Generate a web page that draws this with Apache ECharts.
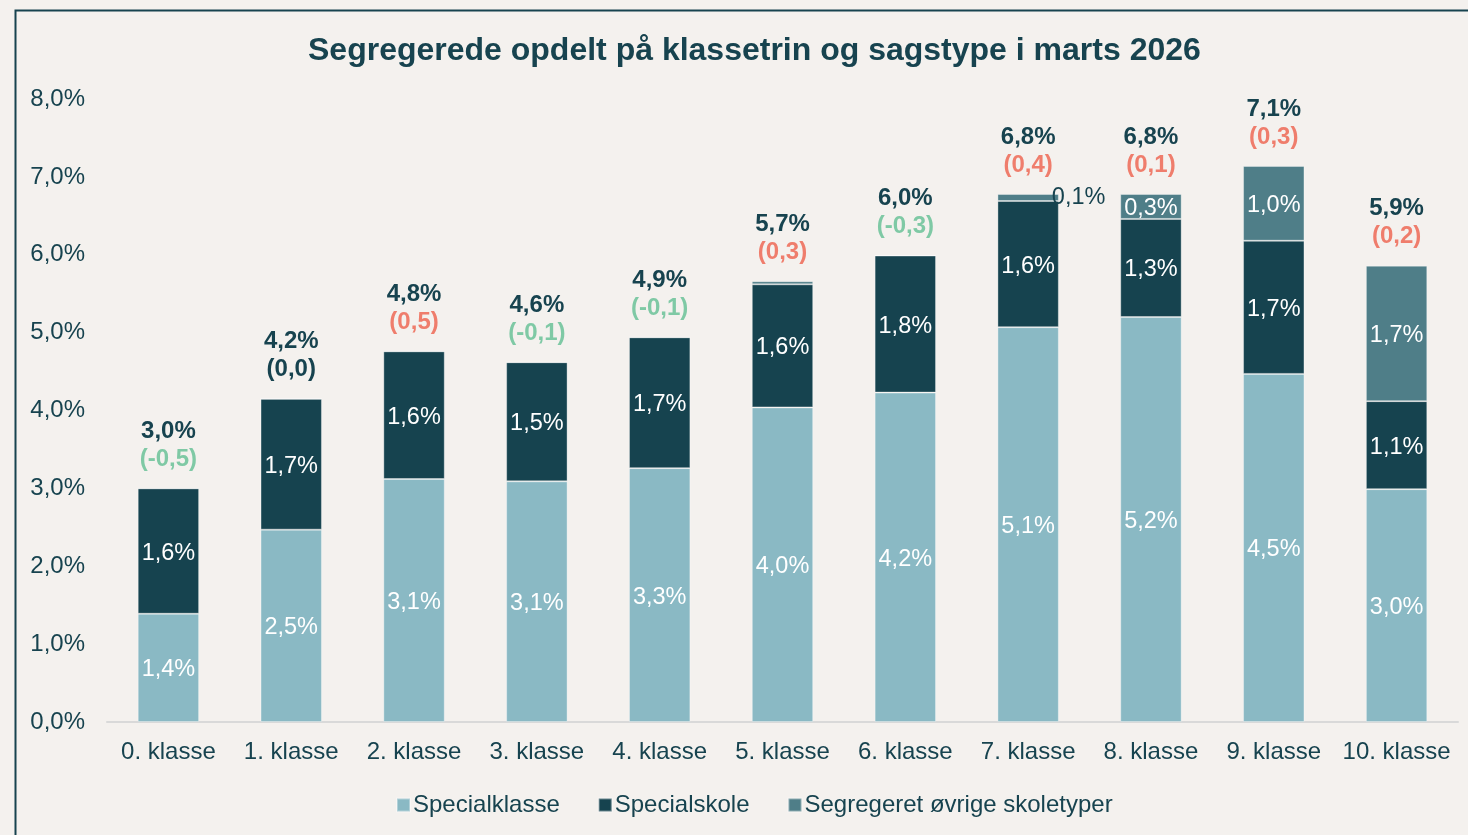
<!DOCTYPE html>
<html><head><meta charset="utf-8">
<script src="https://cdn.jsdelivr.net/npm/echarts@6/dist/echarts.min.js"></script>
<style>html,body{margin:0;padding:0;background:#f4f1ee;}#c{width:1468px;height:835px;}</style>
</head><body><div id="c"></div>
<script>
const categories = ['0. klasse','1. klasse','2. klasse','3. klasse','4. klasse','5. klasse','6. klasse','7. klasse','8. klasse','9. klasse','10. klasse'];
const specialklasse = [1.39, 2.47, 3.12, 3.09, 3.26, 4.04, 4.23, 5.07, 5.20, 4.47, 2.99];
const specialskole  = [1.61, 1.68, 1.64, 1.53, 1.68, 1.58, 1.76, 1.62, 1.26, 1.71, 1.13];
const oevrige       = [0, 0, 0, 0, 0, 0.04, 0, 0.09, 0.32, 0.96, 1.74];
const totals        = [3.0, 4.2, 4.8, 4.6, 4.9, 5.7, 6.0, 6.8, 6.8, 7.1, 5.9];
const changes       = [-0.5, 0.0, 0.5, -0.1, -0.1, 0.3, -0.3, 0.4, 0.1, 0.3, 0.2];
const yTicks = [0, 1, 2, 3, 4, 5, 6, 7, 8];

const DARK = '#17434f';
const FONT = '"Liberation Sans", Arial, sans-serif';
const fmt = v => v.toFixed(1).replace('.', ',');
const pct = v => fmt(v) + '%';

const chart = echarts.init(document.getElementById('c'));
const stackTops = categories.map((c, i) => specialklasse[i] + specialskole[i] + oevrige[i]);

const insideLabel = {
  show: true, position: 'inside', offset: [0, 2], color: '#ffffff', fontSize: 23.5, fontFamily: FONT,
  formatter: p => (p.value >= 0.05 ? pct(p.value) : '')
};

chart.setOption({
  backgroundColor: '#f4f1ee',
  animation: false,
  textStyle: { fontFamily: FONT },
  graphic: [{
    type: 'rect', left: 13, top: 8, z: -1,
    shape: { x: 0, y: 0, width: 1480, height: 860 },
    style: { fill: 'none', stroke: DARK, lineWidth: 2 }
  }],
  title: {
    text: 'Segregerede opdelt på klassetrin og sagstype i marts 2026',
    left: 303, top: 30,
    textStyle: { color: DARK, fontSize: 32, fontWeight: 'bold', fontFamily: FONT }
  },
  legend: {
    data: ['Specialklasse', 'Specialskole', 'Segregeret øvrige skoletyper'],
    left: 391, top: 788, itemWidth: 13, itemHeight: 13, itemGap: 38,
    icon: 'rect',
    textStyle: { color: DARK, fontSize: 24, fontFamily: FONT, padding: [0, 0, 0, -2] }
  },
  grid: { left: 107, right: 10, top: 99, bottom: 113, containLabel: false },
  xAxis: {
    type: 'category', data: categories,
    axisLine: { lineStyle: { color: '#d9d9d9', width: 2 } },
    axisTick: { show: false },
    axisLabel: { color: DARK, fontSize: 24, fontFamily: FONT, margin: 18, interval: 0 }
  },
  yAxis: {
    type: 'value', min: yTicks[0], max: yTicks[yTicks.length - 1], interval: 1,
    splitLine: { show: false },
    axisLine: { show: false },
    axisTick: { show: false },
    axisLabel: { color: DARK, fontSize: 24, fontFamily: FONT, margin: 22, formatter: v => pct(v) }
  },
  series: [
    {
      name: 'Specialklasse', type: 'bar', stack: 's', barWidth: '50%',
      data: specialklasse,
      itemStyle: { color: '#8ab9c4', borderColor: 'rgba(255,255,255,0.35)', borderWidth: 1 },
      label: insideLabel
    },
    {
      name: 'Specialskole', type: 'bar', stack: 's',
      data: specialskole,
      itemStyle: { color: '#16434f', borderColor: 'rgba(255,255,255,0.35)', borderWidth: 1 },
      label: insideLabel
    },
    {
      name: 'Segregeret øvrige skoletyper', type: 'bar', stack: 's',
      data: oevrige.map((v, i) => (v > 0 && v < 0.2) ? {
        value: v,
        label: { show: v >= 0.05, position: 'right', offset: [-12, 0], color: DARK }
      } : v),
      itemStyle: { color: '#4f7e88', borderColor: 'rgba(255,255,255,0.35)', borderWidth: 1 },
      label: insideLabel
    },
    {
      name: 'Total', type: 'scatter', symbolSize: 0,
      data: stackTops,
      z: 10,
      itemStyle: { opacity: 1 },
      label: {
        show: true, position: 'top', distance: 15,
        formatter: p => {
          const i = p.dataIndex;
          const c = changes[i];
          const st = c > 0 ? 'r' : (c < 0 ? 'g' : 'd');
          return '{t|' + pct(totals[i]) + '}\n{' + st + '|(' + fmt(c) + ')}';
        },
        rich: {
          t: { color: DARK, fontSize: 24, fontWeight: 'bold', fontFamily: FONT, lineHeight: 28 },
          r: { color: '#ef7d6c', fontSize: 24, fontWeight: 'bold', fontFamily: FONT, lineHeight: 28 },
          g: { color: '#7fc9a5', fontSize: 24, fontWeight: 'bold', fontFamily: FONT, lineHeight: 28 },
          d: { color: DARK, fontSize: 24, fontWeight: 'bold', fontFamily: FONT, lineHeight: 28 }
        }
      }
    }
  ]
});
</script></body></html>
